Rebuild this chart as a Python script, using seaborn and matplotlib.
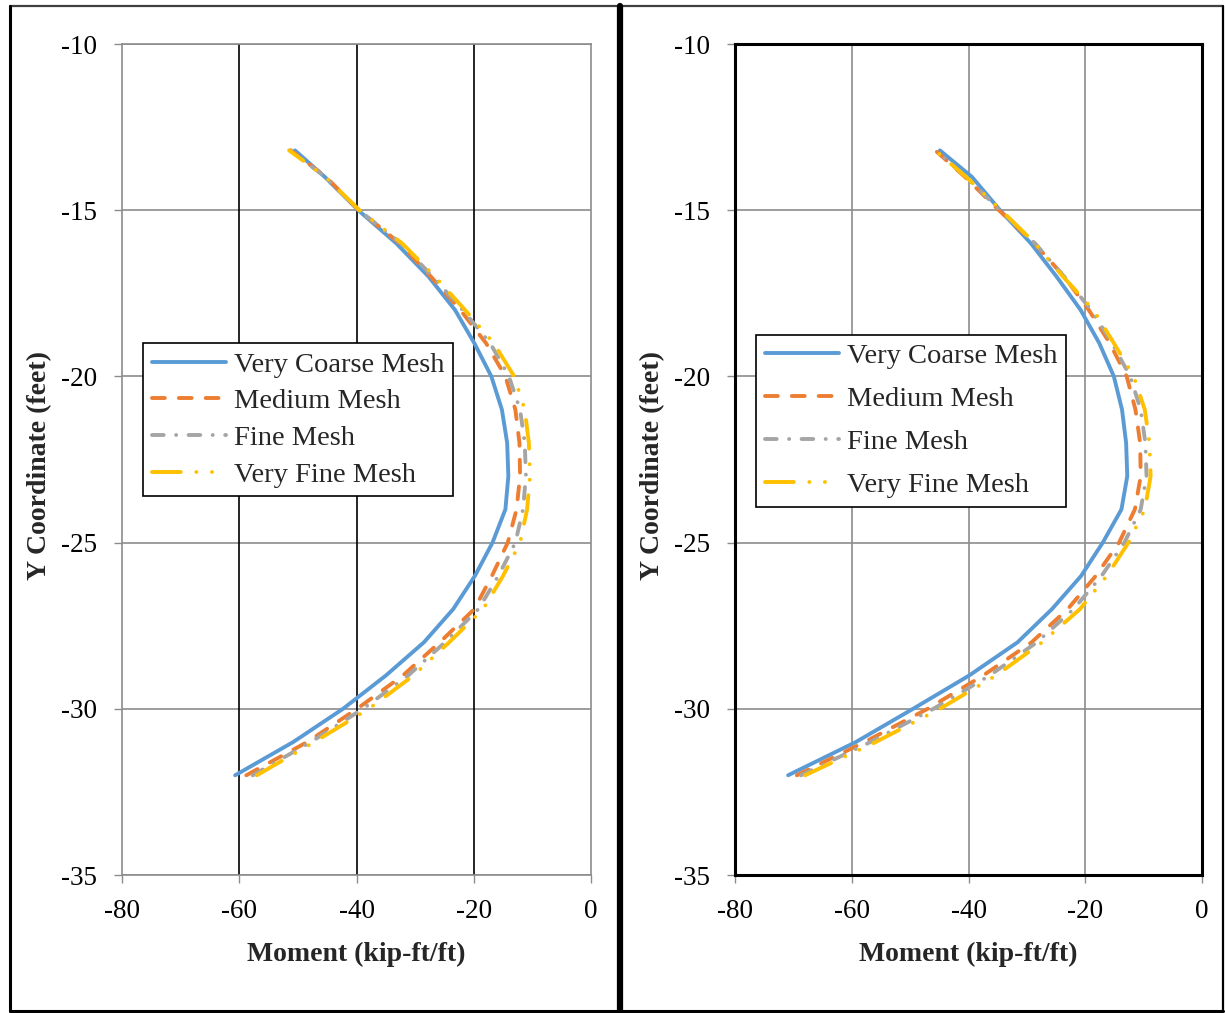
import pandas as pd
import numpy as np
import matplotlib
matplotlib.use("Agg")
import matplotlib.pyplot as plt
import seaborn as sns
from matplotlib.lines import Line2D

# Depth of the section (feet), shared by all curves
Y_COORD = [-13.2, -14, -15, -16, -17, -18, -19, -20, -21, -22,
           -23, -24, -25, -26, -27, -28, -29, -30, -31, -32]

# Left chart - moment (kip-ft/ft)
LEFT_VERY_COARSE = [-50.5, -45.4, -39.7, -33.2, -27.7, -23.2, -19.9, -17.0, -15.2, -14.3,
                    -14.1, -14.6, -16.8, -19.8, -23.5, -28.5, -35.0, -42.3, -50.8, -60.7]
LEFT_MEDIUM = [-51.2, -45.2, -39.6, -32.6, -27.3, -22.3, -17.9, -14.6, -12.9, -12.2,
               -12.1, -12.7, -14.2, -16.9, -19.9, -25.8, -32.1, -39.9, -48.4, -58.8]
LEFT_FINE = [-51.3, -45.3, -39.6, -32.4, -27.0, -21.9, -17.2, -14.0, -12.1, -11.3,
             -11.1, -11.6, -12.9, -15.8, -19.2, -24.9, -31.2, -38.9, -47.8, -57.7]
LEFT_VERY_FINE = [-51.5, -45.3, -39.5, -32.2, -26.6, -21.5, -16.6, -13.1, -11.3, -10.6,
                  -10.4, -10.9, -12.1, -15.0, -18.4, -24.2, -30.3, -37.9, -47.2, -57.0]

# Right chart - moment (kip-ft/ft)
RIGHT_VERY_COARSE = [-44.9, -39.4, -34.6, -29.3, -24.9, -20.8, -17.6, -15.1, -13.7, -13.0,
                     -12.8, -13.8, -17.0, -20.7, -25.7, -31.6, -39.9, -49.5, -59.3, -70.9]
RIGHT_MEDIUM = [-45.7, -40.6, -34.8, -28.7, -23.6, -19.4, -15.8, -12.9, -11.4, -10.6,
                -10.5, -11.5, -14.2, -18.2, -23.0, -29.2, -37.5, -47.0, -57.8, -69.4]
RIGHT_FINE = [-45.6, -40.4, -34.6, -28.6, -23.6, -19.0, -15.4, -12.3, -10.5, -9.7,
              -9.5, -10.5, -13.3, -17.2, -22.0, -28.3, -36.4, -46.0, -56.8, -68.7]
RIGHT_VERY_FINE = [-45.7, -40.4, -34.4, -28.6, -23.8, -18.6, -15.1, -11.7, -9.8, -9.0,
                   -8.8, -9.8, -12.6, -16.3, -20.9, -27.4, -35.3, -44.9, -55.9, -68.0]

SERIES = ["Very Coarse Mesh", "Medium Mesh", "Fine Mesh", "Very Fine Mesh"]
X_TICKS = [-80, -60, -40, -20, 0]
Y_TICKS = [-35, -30, -25, -20, -15, -10]

COLORS = {
    "Very Coarse Mesh": "#5B9BD5",
    "Medium Mesh": "#ED7D31",
    "Fine Mesh": "#A5A5A5",
    "Very Fine Mesh": "#FFC000",
}
STYLES = {
    "Very Coarse Mesh": "-",
    "Medium Mesh": (0, (3.3, 3.6)),
    "Fine Mesh": (0, (3.0, 3.2, 0.01, 3.2)),
    "Very Fine Mesh": (0, (7.4, 4.0, 0.01, 4.0, 0.01, 4.0)),
}
GRID_GRAY = "#8c8c8c"

sns.set_theme(style="white")
plt.rcParams["font.family"] = ["Liberation Serif", "DejaVu Serif"]
plt.rcParams["axes.unicode_minus"] = False

W, H = 1225, 1013
fig = plt.figure(figsize=(W / 100, H / 100), dpi=100)
ax_l = fig.add_axes([122 / W, 1 - 875 / H, 469 / W, 831 / H])
ax_r = fig.add_axes([735 / W, 1 - 875 / H, 467 / W, 831 / H])


def draw_panel(ax, values):
    df = pd.DataFrame({"Y": Y_COORD * 4,
                       "M": sum(values, []),
                       "mesh": np.repeat(SERIES, len(Y_COORD))})
    for name in SERIES:
        sub = df[df["mesh"] == name]
        # orient="y": moment is a function of depth, no aggregation
        sns.lineplot(data=sub, x="M", y="Y", orient="y", estimator=None, ax=ax,
                     label=name, color=COLORS[name], linewidth=2.8,
                     linestyle=STYLES[name], dash_capstyle="round",
                     solid_capstyle="round", solid_joinstyle="round", zorder=3)
    ax.set_xlim(-80, 0)
    ax.set_ylim(-35, -10)
    ax.set_xticks(X_TICKS)
    ax.set_yticks(Y_TICKS)
    ax.set_xlabel("Moment (kip-ft/ft)", fontsize=20, fontweight="bold")
    ax.set_ylabel("Y Coordinate (feet)", fontsize=20, fontweight="bold")
    ax.xaxis.set_label_coords(0.5, -0.08)
    ax.yaxis.set_label_coords(-0.15, 0.493)
    ax.tick_params(axis="both", which="both", bottom=True, left=True,
                   direction="out", length=6, width=1.0, color=GRID_GRAY,
                   labelsize=19.5, labelcolor="black")
    ax.tick_params(axis="y", pad=12)
    ax.tick_params(axis="x", pad=11)
    ax.set_axisbelow(True)
    ax.grid(axis="y", color=GRID_GRAY, linewidth=1.2)


# ---------------- left chart ----------------
draw_panel(ax_l, [LEFT_VERY_COARSE, LEFT_MEDIUM, LEFT_FINE, LEFT_VERY_FINE])
for xv in [-60, -40, -20]:
    ax_l.axvline(xv, color="black", linewidth=1.2, zorder=1)
for s in ax_l.spines.values():
    s.set_color(GRID_GRAY)
    s.set_linewidth(1.2)
leg = ax_l.legend(loc="upper left", bbox_to_anchor=(0.045, 0.640), borderaxespad=0,
                  fontsize=20.5, frameon=True, fancybox=False, framealpha=1,
                  edgecolor="black", handlelength=2.6, handletextpad=0.3,
                  borderpad=0.3, labelspacing=0.38)
leg.get_frame().set_linewidth(1.2)

# ---------------- right chart ----------------
draw_panel(ax_r, [RIGHT_VERY_COARSE, RIGHT_MEDIUM, RIGHT_FINE, RIGHT_VERY_FINE])
ax_r.grid(axis="x", color=GRID_GRAY, linewidth=1.2)
for s in ax_r.spines.values():
    s.set_color("black")
    s.set_linewidth(2.2)
    s.set_zorder(4)
leg = ax_r.legend(loc="upper left", bbox_to_anchor=(0.045, 0.650), borderaxespad=0,
                  fontsize=20.5, frameon=True, fancybox=False, framealpha=1,
                  edgecolor="black", handlelength=2.6, handletextpad=0.3,
                  borderpad=0.3, labelspacing=0.6)
leg.get_frame().set_linewidth(1.2)

# outer frames of the two pictures
def fline(x0, y0, x1, y1, lw, color="black"):
    fig.add_artist(Line2D([x0 / W, x1 / W], [1 - y0 / H, 1 - y1 / H],
                          color=color, linewidth=lw, transform=fig.transFigure))

fline(9.5, 6, 1223, 6, 1.6, "#404040")
fline(9.5, 6, 9.5, 1011, 2.2)
fline(9.5, 1011, 1223, 1011, 2.2)
fline(619.5, 6, 619.5, 1011, 4.5)
fline(1223, 6, 1223, 1011, 1.6)

fig.savefig("out.png", dpi=100)
